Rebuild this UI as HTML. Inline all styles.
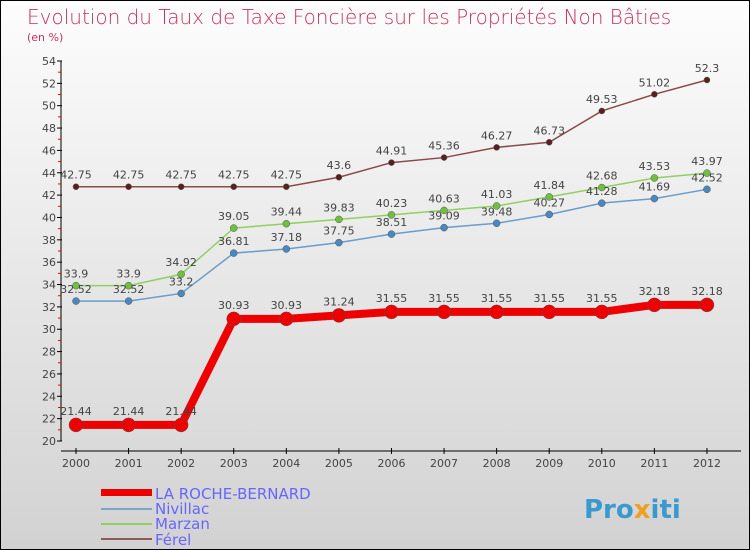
<!DOCTYPE html>
<html><head><meta charset="utf-8"><style>
body{margin:0}
#c{width:748px;height:548px;border:1px solid #000;background:linear-gradient(#fdfdfd,#d2d2d2);position:relative;font-family:"DejaVu Sans","Liberation Sans",sans-serif;overflow:hidden}
</style></head><body>
<div id="c">
<svg id="s" width="748" height="548" xmlns="http://www.w3.org/2000/svg">
<text x="26" y="23" font-size="20" fill="#c8305a" font-family="DejaVu Sans, sans-serif" font-weight="200">Evolution du Taux de Taxe Foncière sur les Propriétés Non Bâties</text>
<text x="26" y="40" font-size="11" fill="#c8305a">(en %)</text>
<g id="axes"></g><g id="series"></g>
<g font-size="15" fill="#6666ff">
<rect x="100" y="488" width="51" height="7" fill="#e00"/>
<text x="154" y="498">LA ROCHE-BERNARD</text>
<rect x="100" y="507" width="51" height="2" fill="#7aa6cc"/>
<text x="154" y="513">Nivillac</text>
<rect x="100" y="522" width="51" height="2" fill="#90d060"/>
<text x="154" y="528">Marzan</text>
<rect x="100" y="537" width="51" height="2" fill="#8a5a5a"/>
<text x="154" y="544">Férel</text>
</g>
<text x="583" y="517" font-size="26" font-weight="bold" fill="#3a9ad0">Pro<tspan fill="#f0a020">x</tspan>iti</text>
</svg></div>
<script>
const years=[2000,2001,2002,2003,2004,2005,2006,2007,2008,2009,2010,2011,2012];
const roche=[21.44,21.44,21.44,30.93,30.93,31.24,31.55,31.55,31.55,31.55,31.55,32.18,32.18];
const nivillac=[32.52,32.52,33.2,36.81,37.18,37.75,38.51,39.09,39.48,40.27,41.28,41.69,42.52];
const marzan=[33.9,33.9,34.92,39.05,39.44,39.83,40.23,40.63,41.03,41.84,42.68,43.53,43.97];
const ferel=[42.75,42.75,42.75,42.75,42.75,43.6,44.91,45.36,46.27,46.73,49.53,51.02,52.3];
const yTicks=[20,22,24,26,28,30,32,34,36,38,40,42,44,46,48,50,52,54];
const NS="http://www.w3.org/2000/svg";
const X=i=>75+i*52.58, Y=v=>440-(v-20)*380/34;
function mk(p,t,a){const e=document.createElementNS(NS,t);for(const k in a)e.setAttribute(k,a[k]);p.appendChild(e);return e;}
const ax=document.getElementById('axes'), sr=document.getElementById('series');
let l=mk(ax,'line',{x1:60,y1:60,x2:60,y2:440,stroke:'#000'});


l=mk(ax,'line',{x1:60,y1:450,x2:740,y2:450,stroke:'#000'});


yTicks.forEach(v=>{const y=Y(v);
mk(ax,'line',{x1:56,y1:y,x2:61,y2:y,stroke:'#000'});
if(v<54)mk(ax,'line',{x1:57,y1:Y(v+1),x2:60,y2:Y(v+1),stroke:'#e00'});
const t=mk(ax,'text',{x:55,y:y+4,'font-size':11,fill:'#444','text-anchor':'end'});t.textContent=v;

});
years.forEach((yr,i)=>{const x=X(i);mk(ax,'line',{x1:x,y1:447,x2:x,y2:453,stroke:'#000'});
const t=mk(ax,'text',{x:x,y:466,'font-size':11,fill:'#444','text-anchor':'middle'});t.textContent=yr;

});
function series(d,name,col,dot,w,r,up){
const pl=mk(sr,'polyline',{points:d.map((v,i)=>X(i)+','+Y(v)).join(' '),fill:'none',stroke:col,'stroke-width':w});


d.forEach((v,i)=>{const c=mk(sr,'circle',{cx:X(i),cy:Y(v),r:r,fill:dot,stroke:'#555','stroke-width':0.5});


const t=mk(sr,'text',{x:X(i),y:Y(v)+(up?-8:-10),'font-size':11,fill:'#444','text-anchor':'middle'});t.textContent=v;

});}
series(ferel,'ferel','#8a4a4a','#5a2020',1.5,3,true);
series(marzan,'marzan','#90d060','#70c040',1.5,3.5,true);
series(nivillac,'nivillac','#6a9ccc','#4a88c0',1.5,3.5,true);
series(roche,'la-roche-bernard','#e00','#e00',8,7,false);
</script></body></html>
